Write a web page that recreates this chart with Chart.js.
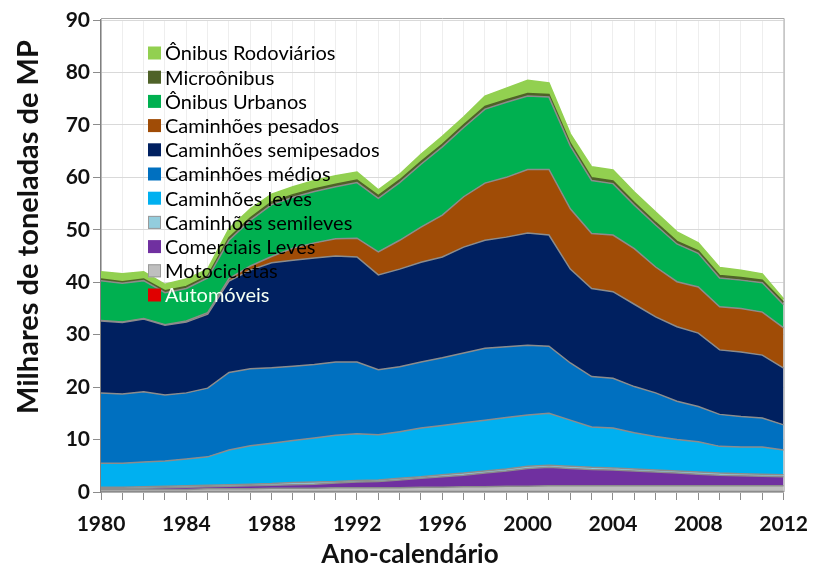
<!DOCTYPE html>
<html><head><meta charset="utf-8">
<script src="https://cdn.jsdelivr.net/npm/chart.js@4/dist/chart.umd.min.js"></script>
<style>html,body{margin:0;padding:0;background:#fff}#wrap{width:820px;height:572px}</style>
</head><body><div id="wrap"><canvas id="c" width="820" height="572"></canvas></div>
<script>
const anos = [1980,1981,1982,1983,1984,1985,1986,1987,1988,1989,1990,1991,1992,1993,1994,1995,1996,1997,1998,1999,2000,2001,2002,2003,2004,2005,2006,2007,2008,2009,2010,2011,2012];
const yTicks = [0,10,20,30,40,50,60,70,80,90];
const xTitle = 'Ano-calendário';
const yTitle = 'Milhares de toneladas de MP';

const automoveis = [0.1,0.1,0.1,0.1,0.1,0.1,0.1,0.1,0.1,0.1,0.1,0.1,0.1,0.1,0.1,0.1,0.1,0.1,0.1,0.1,0.1,0.1,0.1,0.1,0.1,0.1,0.1,0.1,0.1,0.1,0.1,0.1,0.1];
const motocicletas = [0.4,0.4,0.4,0.4,0.4,0.5,0.5,0.5,0.6,0.6,0.6,0.7,0.7,0.7,0.7,0.8,0.8,0.9,0.9,1.0,1.0,1.1,1.1,1.1,1.1,1.1,1.1,1.1,1.1,1.1,1.1,1.1,1.1];
const comerciaisLeves = [0.1,0.1,0.2,0.3,0.4,0.4,0.5,0.6,0.6,0.7,0.8,0.9,1.1,1.2,1.5,1.7,2.0,2.2,2.6,2.9,3.4,3.5,3.3,3.1,3.0,2.8,2.6,2.4,2.2,2.0,1.9,1.8,1.7];
const caminhoesSemileves = [0.3,0.3,0.3,0.3,0.3,0.3,0.3,0.3,0.3,0.4,0.4,0.3,0.3,0.3,0.3,0.3,0.4,0.4,0.4,0.4,0.4,0.4,0.4,0.4,0.4,0.4,0.4,0.4,0.4,0.4,0.4,0.4,0.4];
const caminhoesLeves = [4.6,4.6,4.7,4.8,5.1,5.4,6.6,7.3,7.7,8.0,8.4,8.8,8.9,8.6,8.9,9.3,9.4,9.6,9.7,9.8,9.8,9.9,8.8,7.7,7.6,6.9,6.4,6.0,5.8,5.1,5.1,5.2,4.7];
const caminhoesMedios = [13.4,13.2,13.4,12.6,12.6,13.1,14.8,14.7,14.4,14.2,14.0,14.0,13.7,12.4,12.4,12.6,12.9,13.3,13.7,13.5,13.3,12.8,10.9,9.6,9.5,8.8,8.3,7.3,6.7,6.1,5.8,5.5,4.8];
const caminhoesSemipesados = [13.7,13.6,13.9,13.3,13.5,14.1,17.4,18.8,20.0,20.2,20.3,20.2,20.0,18.1,18.6,19.0,19.2,20.2,20.6,20.9,21.4,21.2,17.9,16.8,16.5,15.7,14.5,14.2,14.0,12.3,12.3,12.0,10.8];
const caminhoesPesados = [0.1,0.1,0.1,0.1,0.2,0.3,0.5,0.8,1.2,2.3,2.9,3.3,3.6,4.4,5.5,6.7,8.0,9.6,10.9,11.4,12.1,12.5,11.5,10.5,10.8,10.6,9.5,8.6,8.8,8.2,8.3,8.2,7.7];
const onibusUrbanos = [7.6,7.4,7.2,6.1,6.2,6.6,7.3,8.7,9.9,9.7,9.8,9.9,10.6,10.2,11.0,12.0,13.0,13.2,14.1,14.3,14.0,13.8,12.0,10.1,9.8,8.3,8.0,7.2,6.4,5.5,5.4,5.6,4.4];
const microonibus = [0.3,0.3,0.3,0.4,0.4,0.4,0.5,0.5,0.5,0.5,0.5,0.5,0.5,0.5,0.5,0.5,0.5,0.5,0.5,0.5,0.5,0.5,0.5,0.5,0.5,0.5,0.5,0.5,0.5,0.5,0.5,0.5,0.5];
const onibusRodoviarios = [1.4,1.5,1.4,1.2,1.4,1.3,1.7,1.7,1.5,1.5,1.6,1.6,1.5,1.1,1.1,1.4,1.5,1.5,2.0,2.2,2.5,2.2,1.8,2.1,2.1,2.0,2.0,1.8,1.5,1.5,1.4,1.2,0.6];

const FONT = 'Lato, "Open Sans", sans-serif';

const seriesDefs = [
  {label:'Automóveis', data:automoveis, color:'#E00000', border:'#8c8c8c', text:'#f4fff4'},
  {label:'Motocicletas', data:motocicletas, color:'#BFBFBF', border:'#8c8c8c'},
  {label:'Comerciais Leves', data:comerciaisLeves, color:'#7030A0', border:'#8c8c8c'},
  {label:'Caminhões semileves', data:caminhoesSemileves, color:'#93CDDD', border:'#8c8c8c'},
  {label:'Caminhões leves', data:caminhoesLeves, color:'#00B0F0', border:'#8c8c8c'},
  {label:'Caminhões médios', data:caminhoesMedios, color:'#0070C0', border:'#8c8c8c'},
  {label:'Caminhões semipesados', data:caminhoesSemipesados, color:'#002060', border:'#8c8c8c'},
  {label:'Caminhões pesados', data:caminhoesPesados, color:'#A04C06', border:'#8c8c8c'},
  {label:'Ônibus Urbanos', data:onibusUrbanos, color:'#00B050', border:'#8c8c8c'},
  {label:'Microônibus', data:microonibus, color:'#4F6228', border:'#4F6228'},
  {label:'Ônibus Rodoviários', data:onibusRodoviarios, color:'#92D050', border:'#92D050'}
];

const datasets = seriesDefs.map((s,i)=>({
  label:s.label, data:s.data, backgroundColor:s.color, borderColor:s.border,
  borderWidth:1.5, fill: i===0 ? 'origin' : '-1', pointRadius:0, tension:0,
  legendText: s.text || '#000'
}));

const inlineLegend = {
  id:'inlineLegend',
  afterDatasetsDraw(chart){
    const ctx = chart.ctx, ca = chart.chartArea;
    const x0 = ca.left + 47, y0 = ca.top + 33, step = 24.2;
    const items = chart.data.datasets.slice().reverse();
    ctx.save();
    ctx.font = '20px ' + FONT;
    ctx.textBaseline = 'middle';
    ctx.textAlign = 'left';
    items.forEach((ds,i)=>{
      const y = y0 + i*step;
      ctx.fillStyle = ds.backgroundColor;
      ctx.fillRect(x0, y-6.5, 13, 13);
      ctx.strokeStyle = '#9a9a9a'; ctx.lineWidth = 1;
      if (ds.label==='Motocicletas' || ds.label==='Caminhões semileves') ctx.strokeRect(x0+0.5, y-6, 12, 12);
      ctx.fillStyle = ds.legendText;
      ctx.fillText(ds.label, x0 + 17, y + 1);
    });
    ctx.restore();
  }
};

const frameAndTitles = {
  id:'frameAndTitles',
  afterDraw(chart){
    const ctx = chart.ctx, ca = chart.chartArea;
    ctx.save();
    ctx.strokeStyle = '#a6a6a6'; ctx.lineWidth = 1;
    ctx.beginPath();
    ctx.moveTo(ca.left, ca.top - 1.5); ctx.lineTo(ca.right + 0.5, ca.top - 1.5); ctx.lineTo(ca.right + 0.5, ca.bottom);
    ctx.stroke();
    ctx.fillStyle = '#111';
    ctx.textAlign = 'center'; ctx.textBaseline = 'middle';
    ctx.font = 'bold 26px ' + FONT;
    ctx.fillText(xTitle, chart.width/2, 555);
    ctx.translate(29, 227);
    ctx.rotate(-Math.PI/2);
    ctx.font = 'bold 29px ' + FONT;
    ctx.fillText(yTitle, 0, 0);
    ctx.restore();
  }
};

new Chart(document.getElementById('c'), {
  type:'line',
  data:{labels:anos, datasets},
  plugins:[inlineLegend, frameAndTitles],
  options:{
    responsive:false, animation:false,
    layout:{padding:{top:20, right:27, left:0, bottom:0}},
    plugins:{legend:{display:false}, tooltip:{enabled:false}},
    elements:{line:{tension:0}, point:{radius:0}},
    scales:{
      x:{
        type:'category', offset:false,
        grid:{color:'#eeeeee', tickLength:8, tickColor:'#8c8c8c', drawOnChartArea:true},
        border:{color:'#8c8c8c', width:1.5},
        ticks:{autoSkip:false, maxRotation:0, minRotation:0, color:'#111', padding:12,
          font:{family:FONT, size:21, weight:'bold'},
          callback:function(v,i){ const y = anos[i]; return ((y-1980)%4===0) ? String(y) : ''; }},
        afterFit(s){ s.height = 80; }
      },
      y:{
        stacked:true, min:0, max:90,
        afterBuildTicks(s){ s.ticks = yTicks.map(v=>({value:v})); },
        grid:{color:'#d9d9d9', tickLength:8, tickColor:'#8c8c8c'},
        border:{color:'#808080', width:1.5},
        ticks:{color:'#111', padding:3, font:{family:FONT, size:21, weight:'bold'}},
        afterFit(s){ s.width = 101; }
      }
    }
  }
});
</script>
</body></html>
